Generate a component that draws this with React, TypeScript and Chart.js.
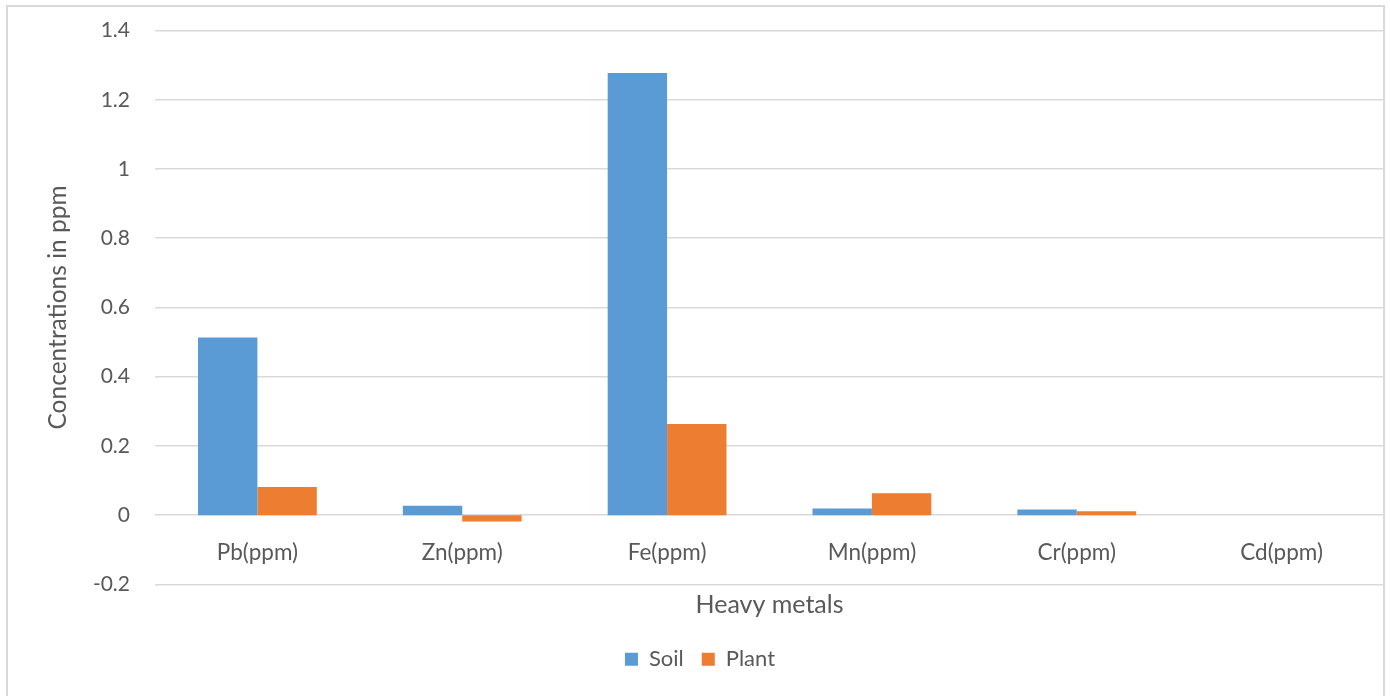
import React, { useEffect, useRef } from "react";
import { Chart, registerables } from "chart.js";

Chart.register(...registerables);

const categories = ["Pb(ppm)", "Zn(ppm)", "Fe(ppm)", "Mn(ppm)", "Cr(ppm)", "Cd(ppm)"];
const soilValues = [0.513, 0.027, 1.277, 0.019, 0.016, 0];
const plantValues = [0.081, -0.018, 0.263, 0.063, 0.011, 0];
const seriesNames = ["Soil", "Plant"];
const yTitle = "Concentrations in ppm";
const xTitle = "Heavy metals";
const yMin = -0.2;
const yMax = 1.4;
const yStep = 0.2;

const FONT = "Lato, 'Open Sans', sans-serif";
const TEXT = "#595959";
const GRID = "#d9d9d9";

export default function App() {
  const ref = useRef<HTMLCanvasElement | null>(null);

  useEffect(() => {
    if (!ref.current) return;
    const frame = {
      id: "frame",
      beforeDraw(chart: any) {
        const ctx = chart.ctx;
        ctx.save();
        ctx.fillStyle = "#ffffff";
        ctx.fillRect(0, 0, chart.width, chart.height);
        ctx.strokeStyle = GRID;
        ctx.lineWidth = 2;
        ctx.strokeRect(7, 6, 1377, 700);
        ctx.restore();
      },
    };
    const chart = new Chart(ref.current, {
      type: "bar",
      data: {
        labels: categories,
        datasets: [
          { label: seriesNames[0], data: soilValues, backgroundColor: "#5B9BD5" },
          { label: seriesNames[1], data: plantValues, backgroundColor: "#ED7D31" },
        ],
      },
      options: {
        animation: false,
        responsive: false,
        devicePixelRatio: 1,
        layout: { padding: { top: 30.5, right: 6, bottom: 15.8, left: 16 } },
        datasets: { bar: { categoryPercentage: 0.58, barPercentage: 1 } },
        scales: {
          x: {
            position: { y: 0 } as any,
            grid: { display: false, drawTicks: false },
            border: { display: false },
            ticks: { color: TEXT, font: { family: FONT, size: 22.5 }, padding: 24.5 },
            afterFit: (s: any) => {
              s.height = 0;
            },
          },
          xTitleAxis: {
            type: "category",
            position: "bottom",
            labels: categories,
            grid: { display: false, drawTicks: false },
            border: { display: false },
            ticks: { display: false },
            title: {
              display: true,
              text: xTitle,
              color: TEXT,
              font: { family: FONT, size: 25 },
              padding: { top: 6, bottom: 9.8 },
            },
          },
          y: {
            min: yMin,
            max: yMax,
            ticks: {
              stepSize: yStep,
              color: TEXT,
              font: { family: FONT, size: 21 },
              padding: 25,
              callback: (v: any) => String(Number(Number(v).toFixed(1))),
            },
            grid: { color: GRID, lineWidth: 1.5, drawTicks: false },
            border: { display: false },
            title: {
              display: true,
              text: yTitle,
              color: TEXT,
              font: { family: FONT, size: 24.5 },
              padding: { top: 27, bottom: 0 },
            },
            afterFit: (s: any) => {
              s.width = 139;
              s.paddingTop = 0;
              s.paddingBottom = 0;
            },
          },
        },
        plugins: {
          legend: {
            position: "bottom",
            labels: {
              color: TEXT,
              font: { family: FONT, size: 22 },
              boxWidth: 13,
              boxHeight: 13,
              padding: 18,
            },
          },
          tooltip: { enabled: false },
        },
      },
      plugins: [frame],
    });
    return () => chart.destroy();
  }, []);

  return (
    <div style={{ position: "fixed", left: 0, top: 0, width: 1390, height: 696, background: "#fff" }}>
      <canvas ref={ref} width={1390} height={696} style={{ display: "block" }} />
    </div>
  );
}
